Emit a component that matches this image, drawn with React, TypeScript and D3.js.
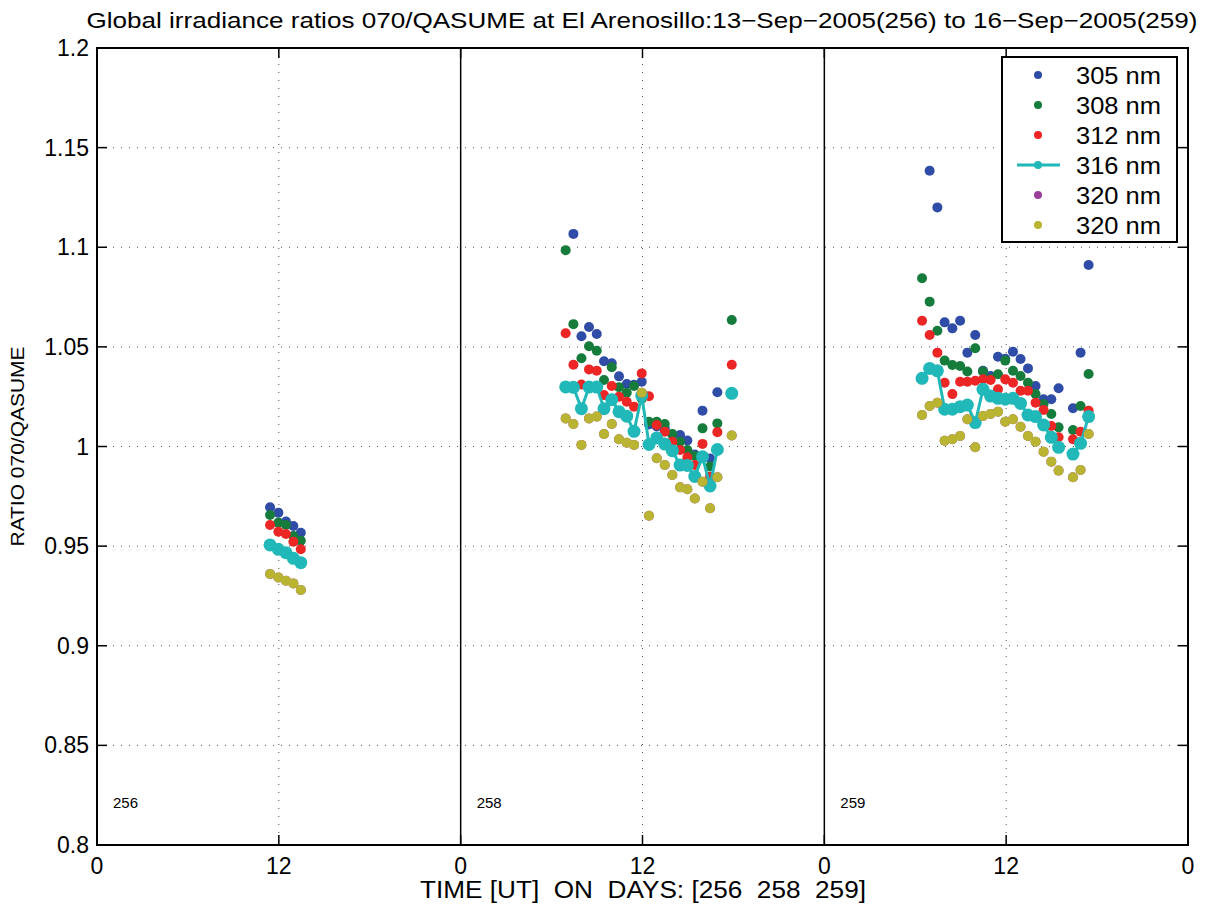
import React from "react";
import * as d3 from "d3";

// ---------- data ----------
const days = [256, 258, 259];
const seriesNames = ["305 nm", "308 nm", "312 nm", "316 nm", "320 nm", "320 nm"];
const seriesColors = ["#2f4ca6", "#167c3c", "#ec2525", "#20b8b8", "#9c3f9c", "#b9b431"];
const yTicks = [0.8, 0.85, 0.9, 0.95, 1, 1.05, 1.1, 1.15, 1.2];
const yTickLabels = ["0.8", "0.85", "0.9", "0.95", "1", "1.05", "1.1", "1.15", "1.2"];
const xTicks = [0, 12, 24, 36, 48, 60, 72];
const xTickLabels = ["0", "12", "0", "12", "0", "12", "0"];

const hours256 = [11.42, 11.97, 12.47, 12.96, 13.45];
const d256_305 = [0.9695, 0.9668, 0.9623, 0.9601, 0.9567];
const d256_308 = [0.9656, 0.9618, 0.9606, 0.9551, 0.9527];
const d256_312 = [0.9606, 0.9572, 0.9561, 0.9522, 0.9484];
const d256_316 = [0.9506, 0.9484, 0.9467, 0.9439, 0.9417];
const d256_320 = [0.936, 0.9343, 0.9326, 0.9313, 0.928];

const hours258 = [6.93, 7.44, 7.97, 8.47, 8.98, 9.46, 9.97, 10.45, 10.96, 11.44, 11.95, 12.43, 12.94, 13.47, 13.97, 14.48, 14.96, 15.45, 15.96, 16.46, 16.94, 17.43, 17.89];
const d258_305 = [null, 1.1067, 1.0553, 1.06, 1.0565, 1.0428, 1.0418, 1.0352, 1.0314, 1.031, 1.0325, 1.011, 1.01, 1.009, 1.006, 1.0058, 1.003, 0.996, 1.018, 0.994, 1.0272, null, null];
const d258_308 = [1.0985, 1.0614, 1.0443, 1.0503, 1.0481, 1.0334, 1.0398, 1.0297, 1.027, 1.0304, 1.024, 1.0124, 1.0124, 1.0113, 1.0063, 1.0024, 0.9982, 0.9952, 1.0091, 0.99, 1.0116, null, 1.0635];
const d258_312 = [1.0568, 1.041, 1.0311, 1.0387, 1.038, 1.0258, 1.0304, 1.025, 1.0225, 1.02, 1.0367, 1.0252, 1.0108, 1.0074, 1.0024, 0.9982, 0.9946, 0.9907, 1.0013, 0.9848, 1.0072, null, 1.041];
const d258_316 = [1.0299, 1.0297, 1.019, 1.0298, 1.0298, 1.019, 1.0235, 1.0175, 1.0152, 1.0076, 1.0256, 1.001, 1.0043, 1.0012, 0.9979, 0.9907, 0.9905, 0.985, 0.9948, 0.9802, 0.9985, null, 1.0267];
const d258_320 = [1.0141, 1.0113, 1.0008, 1.0141, 1.015, 1.0063, 1.0113, 1.0036, 1.0019, 1.0008, 1.027, 0.9652, 0.9941, 0.9907, 0.9857, 0.9795, 0.9785, 0.9739, 0.9823, 0.969, 0.9846, null, 1.0055];

const hours259 = [6.45, 6.95, 7.46, 7.94, 8.45, 8.96, 9.44, 9.96, 10.47, 10.97, 11.46, 11.94, 12.45, 12.95, 13.44, 13.94, 14.47, 14.98, 15.46, 15.96, 16.41, 16.91, 17.44];
const d259_305 = [null, 1.1384, 1.12, 1.0623, 1.0593, 1.0631, 1.0471, 1.056, 1.038, 1.0354, 1.045, 1.044, 1.0476, 1.0439, 1.0392, 1.0304, 1.0237, 1.0237, 1.0292, null, 1.0192, 1.0471, 1.0911];
const d259_308 = [1.0844, 1.0727, 1.0581, 1.0431, 1.0409, 1.0404, 1.0376, 1.0493, 1.0376, 1.034, 1.0363, 1.0431, 1.038, 1.0354, 1.032, 1.0263, 1.0213, 1.0163, 1.0096, null, 1.0083, 1.0203, 1.0364];
const d259_312 = [1.0631, 1.056, 1.0471, 1.032, 1.0263, 1.0325, 1.0325, 1.033, 1.0337, 1.0334, 1.0287, 1.0337, 1.032, 1.028, 1.028, 1.022, 1.0183, 1.0103, 1.0046, null, 1.0036, 1.0074, 1.018];
const d259_316 = [1.0342, 1.0392, 1.038, 1.0187, 1.0187, 1.02, 1.0208, 1.012, 1.0287, 1.0253, 1.0242, 1.0237, 1.0242, 1.0216, 1.0158, 1.015, 1.0108, 1.0046, 0.9996, null, 0.9962, 1.0016, 1.015];
const d259_320 = [1.0158, 1.0203, 1.022, 1.0029, 1.0036, 1.0053, 1.0137, 0.9996, 1.0153, 1.0163, 1.0175, 1.0124, 1.0137, 1.0099, 1.0053, 1.0024, 0.9974, 0.9924, 0.9879, null, 0.9846, 0.9882, 1.0063];

const dayHours = [hours256, hours258, hours259];
// per series, per day (the two 320 nm entries share the same values; olive drawn last)
const seriesByDay: (number | null)[][][] = [
  [d256_305, d258_305, d259_305],
  [d256_308, d258_308, d259_308],
  [d256_312, d258_312, d259_312],
  [d256_316, d258_316, d259_316],
  [d256_320, d258_320, d259_320],
  [d256_320, d258_320, d259_320],
];

const titleText = "Global irradiance ratios 070/QASUME at El Arenosillo:13\u2212Sep\u22122005(256) to 16\u2212Sep\u22122005(259)";
const xLabelText = "TIME [UT]  ON  DAYS: [256  258  259]";
const yLabelText = "RATIO 070/QASUME";

// ---------- layout ----------
const W = 1208, H = 910;
const L = 97, R = 1188, T = 48, B = 845;
const FONT = "'Liberation Sans', Arial, Helvetica, sans-serif";

export default function App() {
  const x = d3.scaleLinear().domain([0, 72]).range([L, R]);
  const y = d3.scaleLinear().domain([0.8, 1.2]).range([B, T]);

  type P = { t: number; v: number | null };
  const line = d3
    .line<P>()
    .defined((d) => d.v !== null)
    .x((d) => x(d.t))
    .y((d) => y(d.v as number));

  const marks: JSX.Element[] = [];
  days.forEach((_, di) => {
    seriesByDay.forEach((ser, si) => {
      const pts: P[] = dayHours[di].map((h, i) => ({ t: di * 24 + h, v: ser[di][i] ?? null }));
      const isLine = si === 3;
      if (isLine) {
        marks.push(
          <path key={`l${di}-${si}`} d={line(pts) || ""} fill="none" stroke={seriesColors[si]} strokeWidth={3} strokeLinejoin="round" />
        );
      }
      pts.forEach((p, i) => {
        if (p.v === null) return;
        marks.push(
          <circle key={`c${di}-${si}-${i}`} cx={x(p.t)} cy={y(p.v)} r={isLine ? 6.5 : 5} fill={seriesColors[si]} />
        );
      });
    });
  });

  const gridXs = [12, 36, 60];
  const dayLines = [24, 48];

  return (
    <svg width={W} height={H} style={{ position: "absolute", left: 0, top: 0, background: "#fff" }} fontFamily={FONT}>
      <rect x={0} y={0} width={W} height={H} fill="#fff" />
      {/* grid */}
      {yTicks.slice(1, -1).map((v) => (
        <line key={`gy${v}`} x1={L} x2={R} y1={y(v)} y2={y(v)} stroke="#555" strokeWidth={1} strokeDasharray="1 7" />
      ))}
      {gridXs.map((t) => (
        <line key={`gx${t}`} x1={x(t)} x2={x(t)} y1={T} y2={B} stroke="#555" strokeWidth={1} strokeDasharray="1 7" />
      ))}
      {dayLines.map((t) => (
        <line key={`dl${t}`} x1={x(t)} x2={x(t)} y1={T} y2={B} stroke="#000" strokeWidth={1.5} />
      ))}
      {/* ticks */}
      {yTicks.map((v) => (
        <g key={`ty${v}`}>
          <line x1={L} x2={L + 10} y1={y(v)} y2={y(v)} stroke="#000" strokeWidth={1.5} />
          <line x1={R} x2={R - 10} y1={y(v)} y2={y(v)} stroke="#000" strokeWidth={1.5} />
        </g>
      ))}
      {xTicks.map((t) => (
        <g key={`tx${t}`}>
          <line x1={x(t)} x2={x(t)} y1={B} y2={B - 10} stroke="#000" strokeWidth={1.5} />
          <line x1={x(t)} x2={x(t)} y1={T} y2={T + 10} stroke="#000" strokeWidth={1.5} />
        </g>
      ))}
      {/* day labels */}
      {days.map((d, di) => (
        <text key={`dlab${d}`} x={x(di * 24) + 16} y={808} fontSize={15} fill="#000">
          {d}
        </text>
      ))}
      {/* data */}
      {marks}
      {/* axes box */}
      <rect x={L} y={T} width={R - L} height={B - T} fill="none" stroke="#000" strokeWidth={2} />
      {/* tick labels */}
      {yTicks.map((v, i) => (
        <text key={`yl${v}`} x={L - 8} y={y(v) + 8} fontSize={23} textAnchor="end" fill="#000">
          {yTickLabels[i]}
        </text>
      ))}
      {xTicks.map((t, i) => (
        <text key={`xl${t}`} x={x(t)} y={874} fontSize={23} textAnchor="middle" fill="#000">
          {xTickLabels[i]}
        </text>
      ))}
      {/* legend */}
      <g>
        <rect x={1002} y={57} width={175} height={185} fill="#fff" stroke="#000" strokeWidth={2} />
        {seriesNames.map((n, i) => {
          const cy = 75 + i * 30;
          return (
            <g key={`lg${i}`}>
              {i === 3 && <line x1={1017} x2={1060} y1={cy} y2={cy} stroke={seriesColors[i]} strokeWidth={3} />}
              <circle cx={1038} cy={cy} r={4} fill={seriesColors[i]} />
              <text x={1076} y={cy + 9} fontSize={24} fill="#000" textLength={85} lengthAdjust="spacingAndGlyphs">
                {n}
              </text>
            </g>
          );
        })}
      </g>
      {/* title and labels */}
      <text x={642} y={28} fontSize={22} textAnchor="middle" fill="#000" textLength={1111} lengthAdjust="spacingAndGlyphs">
        {titleText}
      </text>
      <text x={643} y={898} fontSize={23} textAnchor="middle" fill="#000" textLength={446} lengthAdjust="spacingAndGlyphs" style={{ whiteSpace: "pre" }}>
        {xLabelText}
      </text>
      <text transform={`translate(24,${(T + B) / 2}) rotate(-90)`} fontSize={19} textAnchor="middle" fill="#000" textLength={200} lengthAdjust="spacingAndGlyphs">
        {yLabelText}
      </text>
    </svg>
  );
}
